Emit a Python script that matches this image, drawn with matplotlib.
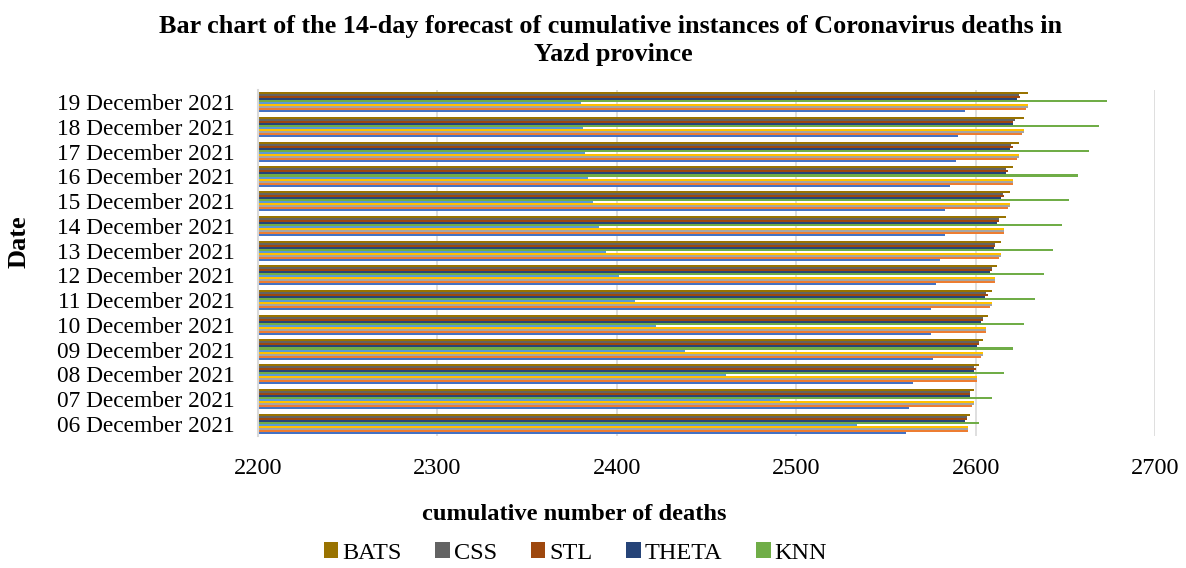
import numpy as np
import matplotlib
matplotlib.use("Agg")
import matplotlib.pyplot as plt
from matplotlib.patches import Patch

plt.rcParams['font.family'] = ['Liberation Serif', 'DejaVu Serif']

dates = ['06 December 2021', '07 December 2021', '08 December 2021', '09 December 2021',
         '10 December 2021', '11 December 2021', '12 December 2021', '13 December 2021',
         '14 December 2021', '15 December 2021', '16 December 2021', '17 December 2021',
         '18 December 2021', '19 December 2021']

# unnamed series (not shown in the legend), bottom to top inside each group
s1 = [2561, 2563, 2565, 2576, 2575, 2575, 2578, 2580, 2583, 2583, 2586, 2589, 2590, 2594]
s2 = [2596, 2598, 2601, 2603, 2606, 2608, 2611, 2613, 2616, 2618, 2621, 2623, 2626, 2628]
s3 = [2596, 2599, 2601, 2604, 2606, 2609, 2611, 2614, 2616, 2619, 2621, 2624, 2627, 2629]
s4 = [2596, 2599, 2601, 2604, 2606, 2609, 2611, 2614, 2616, 2619, 2621, 2624, 2627, 2629]
s5 = [2534, 2491, 2461, 2438, 2422, 2410, 2401, 2394, 2390, 2387, 2384, 2382, 2381, 2380]
# named series
knn = [2602, 2609, 2616, 2621, 2627, 2633, 2638, 2643, 2648, 2652, 2657, 2663, 2669, 2673]
theta = [2594, 2597, 2599, 2601, 2603, 2605, 2608, 2610, 2612, 2614, 2617, 2619, 2621, 2623]
stl = [2595, 2597, 2600, 2602, 2604, 2607, 2609, 2611, 2613, 2616, 2618, 2621, 2621, 2625]
css = [2595, 2597, 2599, 2602, 2604, 2606, 2609, 2611, 2613, 2615, 2617, 2620, 2622, 2624]
bats = [2597, 2599, 2602, 2604, 2607, 2609, 2612, 2614, 2617, 2619, 2621, 2624, 2627, 2629]

series = [s1, s2, s3, s4, s5, knn, theta, stl, css, bats]
colors = ['#4472C4', '#ED7D31', '#A5A5A5', '#FFC000', '#5B9BD5',
          '#70AD47', '#264478', '#9E480E', '#636363', '#997300']
legend_names = ['BATS', 'CSS', 'STL', 'THETA', 'KNN']
legend_colors = ['#997300', '#636363', '#9E480E', '#264478', '#70AD47']

fig = plt.figure(figsize=(11.86, 5.68), dpi=100)
ax = fig.add_axes([258 / 1186, 1 - 436 / 568, (1155 - 258) / 1186, (436 - 90) / 568])

y = np.arange(len(dates))
n = len(series)
h = 0.81 / n
for i, (vals, c) in enumerate(zip(series, colors)):
    ax.barh(y - 0.405 + h * (i + 0.5), np.array(vals) - 2200, left=2200, height=h,
            color=c, linewidth=0)

ax.set_xlim(2200, 2700)
ax.set_ylim(-0.5, len(dates) - 0.5)
ax.set_xticks([2200, 2300, 2400, 2500, 2600, 2700])
ax.set_yticks(y)
ax.set_yticklabels(dates)
ax.tick_params(axis='both', length=0, colors='black')
ax.tick_params(axis='x', pad=16, labelsize=17.5)
ax.tick_params(axis='y', pad=17, labelsize=16.8)
ax.grid(axis='x', color='#D9D9D9', linewidth=1.2)
ax.set_axisbelow(True)
for s in ['top', 'right', 'bottom']:
    ax.spines[s].set_visible(False)
ax.spines['left'].set_color('#D9D9D9')
ax.spines['left'].set_linewidth(1.5)

fig.text(611 / 1186, 1 - 27 / 568, 'Bar chart of the 14-day forecast of cumulative instances of Coronavirus deaths in',
         ha='center', va='center', fontsize=18.8, fontweight='bold')
fig.text(613 / 1186, 1 - 54 / 568, 'Yazd province', ha='center', va='center', fontsize=18.8, fontweight='bold')
fig.text(574 / 1186, 1 - 515 / 568, 'cumulative number of deaths', ha='center', va='center',
         fontsize=17.6, fontweight='bold')
fig.text(19 / 1186, 1 - 242 / 568, 'Date', ha='center', va='center', rotation=90,
         fontsize=19, fontweight='bold')

handles = [Patch(facecolor=c, edgecolor='none') for c in legend_colors]
fig.legend(handles, legend_names, loc='center', bbox_to_anchor=(0.485, 1 - 553 / 568), ncol=5,
           frameon=False, fontsize=17.5, handlelength=0.6, handleheight=0.6,
           handletextpad=0.15, columnspacing=1.4)

fig.savefig('out.png', dpi=100)
